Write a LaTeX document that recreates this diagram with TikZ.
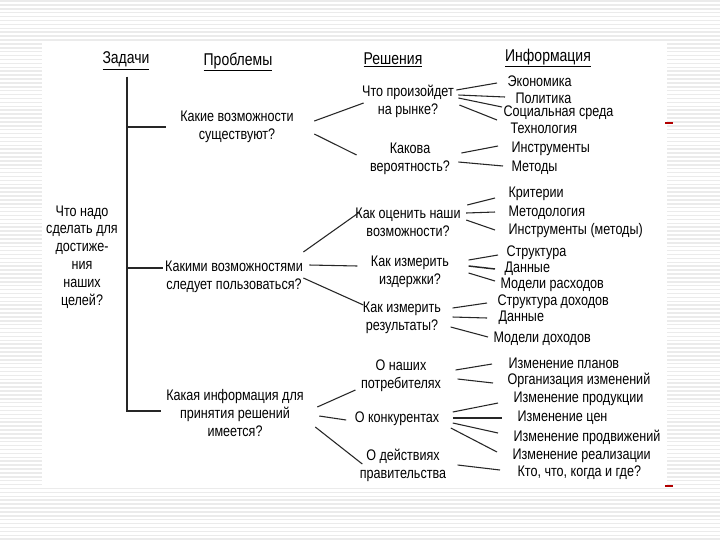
\documentclass[tikz,border=0pt]{standalone}
\usepackage{fontspec}
\setmainfont{Liberation Sans}[FakeStretch=0.82]
\usetikzlibrary{positioning,calc}

\tikzset{
  txt/.style={font=\fontsize{11.5}{13.4}\selectfont, align=center, inner sep=1pt},
  info/.style={txt, anchor=west, align=left},
  head/.style={font=\fontsize{12.8}{14}\selectfont, inner sep=1pt},
  link/.style={draw=black!85, line width=0.8pt},
}

\begin{document}
\begin{tikzpicture}[x=0.75pt,y=-0.75pt]
\useasboundingbox (0,0) rectangle (720,540);
% slide background
\fill[white] (0,0) rectangle (720,540);
\foreach \k in {0,...,138}
  \draw[gray!16, line width=1.1pt] (0,\k*3.9+1) -- (720,\k*3.9+1);
\fill[white] (42,42) rectangle (667,488);
\draw[red!70!black, line width=0.9pt] (665,123) -- (673,123);
\draw[red!70!black, line width=0.9pt] (665,486) -- (673,486);

% column heads
\node[head] (zad) at (126,61) {\underline{Задачи}};
\node[head] (prob) at (238,62) {\underline{Проблемы}};
\node[head] (resh) at (393,60) {\underline{Решения}};
\node[head] (inf) at (548,58) {\underline{Информация}};

\node[txt] (goal) at (82,257) {Что надо\\сделать для\\достиже-\\ния\\наших\\целей?};

% problems
\node[txt] (p1) at (237,127) {Какие возможности\\существуют?};
\node[txt] (p2) at (234,277) {Какими возможностями\\следует пользоваться?};
\node[txt] (p3) at (235,413) {Какая информация для\\принятия решений\\имеется?};

% solutions
\node[txt] (s1) at (408,101) {Что произойдет\\на рынке?};
\node[txt] (s2) at (410,159) {Какова\\вероятность?};
\node[txt] (s3) at (408,222) {Как оценить наши\\возможности?};
\node[txt] (s4) at (410,272) {Как измерить\\издержки?};
\node[txt] (s5) at (402,318) {Как измерить\\результаты?};
\node[txt] (s6) at (401,376) {О наших\\потребителях};
\node[txt] (s7) at (397,419) {О конкурентах};
\node[txt] (s8) at (403,465) {О действиях\\правительства};

% information
\node[info] (i11) at (506,81) {Экономика};
\node[info] (i12) at (514,98) {Политика};
\node[info] (i13) at (502,113) {Социальная среда};
\node[info] (i14) at (509,128) {Технология};
\node[info] (i21) at (510,149) {Инструменты};
\node[info] (i22) at (510,168) {Методы};
\node[info] (i31) at (507,194) {Критерии};
\node[info] (i32) at (507,213) {Методология};
\node[info] (i33) at (507,231) {Инструменты (методы)};
\node[info] (i41) at (505,253) {Структура};
\node[info] (i42) at (503,269) {Данные};
\node[info] (i43) at (499,285) {Модели расходов};
\node[info] (i51) at (496,302) {Структура доходов};
\node[info] (i52) at (497,318) {Данные};
\node[info] (i53) at (492,339) {Модели доходов};
\node[info] (i61) at (507,363) {Изменение планов};
\node[info] (i62) at (506,380) {Организация изменений};
\node[info] (i71) at (512,399) {Изменение продукции};
\node[info] (i72) at (516,418) {Изменение цен};
\node[info] (i73) at (512,437) {Изменение продвижений};
\node[info] (i74) at (511,456) {Изменение реализации};
\node[info] (i81) at (516,473) {Кто, что, когда и где?};

% tasks trunk
\coordinate (top) at ($(zad.south)+(1,5)$);
\coordinate (b1) at ($(p1.west)+(-13,0)$);
\coordinate (b2) at ($(p2.west)+(-1,-9)$);
\draw[link] (top) |- ($(p3.west)+(-4,-2)$);
\draw[link] (top |- b1) -- (b1);
\draw[link] (top |- b2) -- (b2);

% problems to solutions
\draw[link] ($(p1.east)+(19,-6)$) -- ($(s1.west)+(3,2)$);
\draw[link] ($(p1.east)+(19,7)$) -- ($(s2.west)+(-12,-4)$);
\draw[link] ($(p2.east)+(-1,-25)$) -- ($(s3.west)+(6,-10)$);
\draw[link] ($(p2.east)+(5,-12)$) -- ($(s4.west)+(-12,-6)$);
\draw[link] ($(p2.east)+(-1,1)$) -- ($(s5.west)+(2,-13)$);
\draw[link] ($(p3.east)+(12,-6)$) -- ($(s6.west)+(-4,14)$);
\draw[link] ($(p3.east)+(14,3)$) -- ($(s7.west)+(-7,1)$);
\draw[link] ($(p3.east)+(10,14)$) -- ($(s8.west)+(4,-1)$);

% solutions to information
\draw[link] ($(s1.east)+(1,-11)$) -- ($(i11.west)+(-9,2)$);
\draw[link] ($(s1.east)+(3,-6)$) -- ($(i12.west)+(-9,-1)$);
\draw[link] ($(s1.east)+(3,-3)$) -- ($(i13.west)+(0,-6)$);
\draw[link] ($(s1.east)+(4,4)$) -- ($(i14.west)+(-12,-8)$);
\draw[link] ($(s2.east)+(10,-6)$) -- ($(i21.west)+(-12,-3)$);
\draw[link] ($(s2.east)+(7,3)$) -- ($(i22.west)+(-7,-2)$);
\draw[link] ($(s3.east)+(5,-17)$) -- ($(i31.west)+(-12,4)$);
\draw[link] ($(s3.east)+(4,-9)$) -- ($(i32.west)+(-12,-1)$);
\draw[link] ($(s3.east)+(4,-2)$) -- ($(i33.west)+(-12,-1)$);
\draw[link] ($(s4.east)+(18,-12)$) -- ($(i41.west)+(-7,2)$);
\draw[link, line width=1.1pt] ($(s4.east)+(18,-6)$) -- ($(i42.west)+(-8,0)$);
\draw[link] ($(s4.east)+(18,1)$) -- ($(i43.west)+(-4,-4)$);
\draw[link] ($(s5.east)+(10,-10)$) -- ($(i51.west)+(-9,1)$);
\draw[link] ($(s5.east)+(10,-1)$) -- ($(i52.west)+(-10,0)$);
\draw[link] ($(s5.east)+(8,9)$) -- ($(i53.west)+(-4,-2)$);
\draw[link] ($(s6.east)+(13,-6)$) -- ($(i61.west)+(-15,1)$);
\draw[link] ($(s6.east)+(15,3)$) -- ($(i62.west)+(-13,3)$);
\draw[link] ($(s7.east)+(12,-7)$) -- ($(i71.west)+(-14,4)$);
\draw[link, line width=1.3pt] ($(s7.east)+(12,-1)$) -- ($(i72.west)+(-14,0)$);
\draw[link] ($(s7.east)+(12,4)$) -- ($(i73.west)+(-14,-4)$);
\draw[link] ($(s7.east)+(10,9)$) -- ($(i74.west)+(-14,-4)$);
\draw[link] ($(s8.east)+(10,0)$) -- ($(i81.west)+(-16,-3)$);
\end{tikzpicture}
\end{document}
